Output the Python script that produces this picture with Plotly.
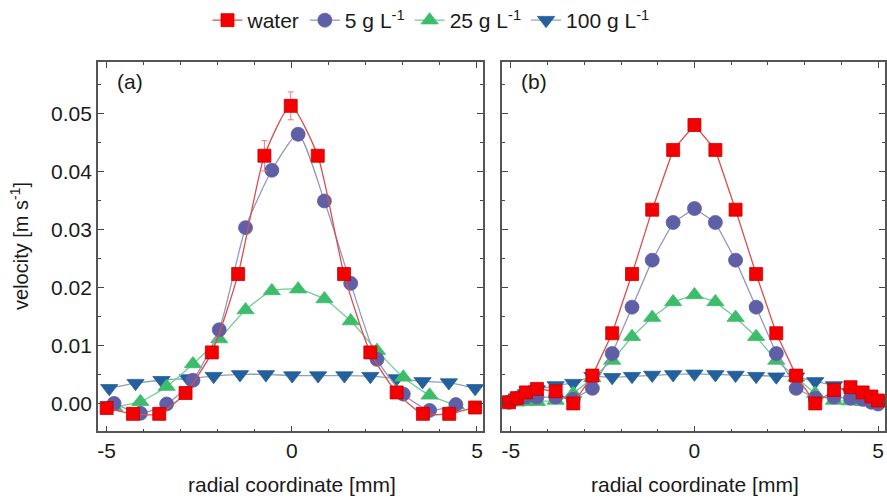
import plotly.graph_objects as go

# ---------------- data ----------------
# panel (a)
water_a_x = [-5.0, -4.29, -3.58, -2.87, -2.16, -1.45, -0.74, -0.03, 0.70, 1.41, 2.12, 2.83, 3.54, 4.25, 4.95]
water_a_y = [-0.0008, -0.0018, -0.0018, 0.0018, 0.0088, 0.0223, 0.0427, 0.0513, 0.0427, 0.0223, 0.0088, 0.0019, -0.0018, -0.0018, -0.0007]
water_a_err = [0.0003, 0.0003, 0.0003, 0.0003, 0.0004, 0.0008, 0.0026, 0.0024, 0.0008, 0.0006, 0.0004, 0.0003, 0.0003, 0.0003, 0.0003]

g5_a_x = [-4.8, -4.09, -3.38, -2.67, -1.96, -1.25, -0.54, 0.17, 0.88, 1.59, 2.30, 3.01, 3.72, 4.43]
g5_a_y = [0.0000, -0.0017, -0.0001, 0.0040, 0.0127, 0.0303, 0.0402, 0.0464, 0.0349, 0.0207, 0.0076, 0.0016, -0.0012, -0.0002]

g25_a_x = [-4.8, -4.09, -3.38, -2.67, -1.96, -1.25, -0.54, 0.17, 0.88, 1.59, 2.30, 3.01, 3.72, 4.43]
g25_a_y = [-0.0006, 0.0003, 0.0029, 0.0068, 0.0111, 0.0161, 0.0194, 0.0197, 0.0180, 0.0142, 0.0091, 0.0045, 0.0014, -0.0003]

g100_a_x = [-4.93, -4.22, -3.52, -2.81, -2.11, -1.40, -0.70, 0.01, 0.71, 1.42, 2.12, 2.83, 3.53, 4.24, 4.95]
g100_a_y = [0.0026, 0.0035, 0.0040, 0.0043, 0.0047, 0.0050, 0.0050, 0.0048, 0.0048, 0.0048, 0.0047, 0.0043, 0.0038, 0.0036, 0.0026]

# panel (b)
x_b = [-5.05, -4.84, -4.59, -4.29, -3.78, -3.30, -2.78, -2.24, -1.70, -1.15, -0.58, 0.0,
       0.57, 1.12, 1.68, 2.23, 2.77, 3.29, 3.80, 4.25, 4.58, 4.82, 5.0]
water_b_y = [0.0002, 0.0009, 0.0019, 0.0025, 0.0021, 0.0000, 0.0048, 0.0121, 0.0223, 0.0334, 0.0437, 0.0480,
             0.0437, 0.0334, 0.0223, 0.0121, 0.0048, 0.0000, 0.0023, 0.0028, 0.0019, 0.0012, 0.0005]
g5_b_y = [0.0002, 0.0009, 0.0011, 0.0011, 0.0011, 0.0007, 0.0026, 0.0086, 0.0166, 0.0247, 0.0312, 0.0336,
          0.0312, 0.0247, 0.0166, 0.0086, 0.0026, 0.0009, 0.0011, 0.0009, 0.0007, 0.0002, -0.0001]
g25_b_y = [0.0002, 0.0002, 0.0003, 0.0003, 0.0005, 0.0017, 0.0044, 0.0074, 0.0115, 0.0148, 0.0175, 0.0187,
           0.0175, 0.0148, 0.0115, 0.0074, 0.0045, 0.0017, 0.0005, 0.0004, 0.0003, 0.0002, 0.0001]
g100_b_y = [0.0004, 0.0010, 0.0017, 0.0024, 0.0031, 0.0035, 0.0047, 0.0045, 0.0047, 0.0049, 0.0050, 0.0051,
            0.0050, 0.0049, 0.0047, 0.0046, 0.0046, 0.0038, 0.0031, 0.0019, 0.0014, 0.0008, 0.0004]

series_names = ["water", "5 g L<sup>-1</sup>", "25 g L<sup>-1</sup>", "100 g L<sup>-1</sup>"]
x_tickvals = [-5, 0, 5]
x_ticktext = ["-5", "0", "5"]
y_tickvals = [0.00, 0.01, 0.02, 0.03, 0.04, 0.05]
y_ticktext = ["0.00", "0.01", "0.02", "0.03", "0.04", "0.05"]

# ---------------- styles ----------------
FONT = "Liberation Sans, Arial, sans-serif"
FS = 21
styles = [
    dict(symbol="square", size=13, fill="#F40000", edge="#C80000", line="#DA4F4F"),
    dict(symbol="circle", size=14, fill="#5E5FA6", edge="#5E5FA6", line="#9598BE"),
    dict(symbol="triangle-up", size=15, fill="#3DBD6C", edge="#3DBD6C", line="#74CC98"),
    dict(symbol="triangle-down", size=15, fill="#23609C", edge="#23609C", line="#8AA2BC"),
]

fig = go.Figure()

panel_a = [(water_a_x, water_a_y), (g5_a_x, g5_a_y), (g25_a_x, g25_a_y), (g100_a_x, g100_a_y)]
panel_b = [(x_b, water_b_y), (x_b, g5_b_y), (x_b, g25_b_y), (x_b, g100_b_y)]

# draw in reverse so water is on top
for i in [3, 2, 1, 0]:
    st = styles[i]
    xs, ys = panel_a[i]
    err = dict(type="data", array=water_a_err, color="#F07A7A", thickness=1, width=3) if i == 0 else None
    fig.add_trace(go.Scatter(
        x=xs, y=ys, mode="lines+markers", name=series_names[i], legendrank=i + 1,
        line=dict(color=st["line"], width=1.3, shape="spline", smoothing=0.6),
        marker=dict(symbol=st["symbol"], size=st["size"], color=st["fill"],
                    line=dict(color=st["edge"], width=0.8)),
        error_y=err, xaxis="x", yaxis="y", showlegend=True))
for i in [3, 2, 1, 0]:
    st = styles[i]
    xs, ys = panel_b[i]
    fig.add_trace(go.Scatter(
        x=xs, y=ys, mode="lines+markers", name=series_names[i], legendrank=i + 1,
        line=dict(color=st["line"], width=1.3),
        marker=dict(symbol=st["symbol"], size=st["size"], color=st["fill"],
                    line=dict(color=st["edge"], width=0.8)),
        xaxis="x2", yaxis="y2", showlegend=False))

W, H = 887, 499
ytop, ybot = 60, 431
ydom = [1 - ybot / H, 1 - ytop / H]
yrange = [-0.0048, 0.0589]

axis_common = dict(
    showline=True, linecolor="#555555", linewidth=1.5, mirror="allticks",
    ticks="inside", ticklen=6, tickwidth=1.3, tickcolor="#444444",
    showgrid=False, zeroline=False,
    tickfont=dict(family=FONT, size=FS, color="#1a1a1a"),
)

fig.update_layout(
    width=W, height=H,
    margin=dict(l=0, r=0, t=0, b=0),
    paper_bgcolor="white", plot_bgcolor="white",
    font=dict(family=FONT, size=FS, color="#1a1a1a"),
    xaxis=dict(domain=[98 / W, 484 / W], range=[-5.24, 5.16], anchor="y",
               tickvals=x_tickvals, ticktext=x_ticktext,
               minor=dict(ticks="inside", dtick=1, ticklen=3, tickcolor="#444444"),
               **axis_common),
    yaxis=dict(domain=ydom, range=yrange, anchor="x",
               tickvals=y_tickvals, ticktext=y_ticktext,
               minor=dict(ticks="inside", dtick=0.005, tick0=0, ticklen=3, tickcolor="#444444"),
               **axis_common),
    xaxis2=dict(domain=[503 / W, 1.0], range=[-5.245, 5.19], anchor="y2",
                tickvals=x_tickvals, ticktext=x_ticktext,
                minor=dict(ticks="inside", dtick=1, ticklen=3, tickcolor="#444444"),
                **axis_common),
    yaxis2=dict(domain=ydom, range=yrange, anchor="x2",
                tickvals=y_tickvals, showticklabels=False,
                minor=dict(ticks="inside", dtick=0.005, tick0=0, ticklen=3, tickcolor="#444444"),
                **axis_common),
    legend=dict(orientation="h", x=0.487, xanchor="center", y=1.005, yanchor="top",
                font=dict(family=FONT, size=FS, color="#1a1a1a"),
                bgcolor="rgba(0,0,0,0)", itemwidth=30, traceorder="normal"),
    showlegend=True,
    annotations=[
        dict(text="(a)", x=115 / W, y=1 - 80 / H, xref="paper", yref="paper",
             xanchor="left", yanchor="middle", showarrow=False,
             font=dict(family=FONT, size=FS, color="#1a1a1a")),
        dict(text="(b)", x=520 / W, y=1 - 80 / H, xref="paper", yref="paper",
             xanchor="left", yanchor="middle", showarrow=False,
             font=dict(family=FONT, size=FS, color="#1a1a1a")),
        dict(text="radial coordinate [mm]", x=293 / W, y=1 - 484 / H, xref="paper", yref="paper",
             xanchor="center", yanchor="middle", showarrow=False,
             font=dict(family=FONT, size=FS, color="#1a1a1a")),
        dict(text="radial coordinate [mm]", x=697 / W, y=1 - 484 / H, xref="paper", yref="paper",
             xanchor="center", yanchor="middle", showarrow=False,
             font=dict(family=FONT, size=FS, color="#1a1a1a")),
        dict(text="velocity [m s<sup>-1</sup>]", x=19 / W, y=1 - 245 / H, xref="paper", yref="paper",
             xanchor="center", yanchor="middle", textangle=-90, showarrow=False,
             font=dict(family=FONT, size=FS - 1, color="#1a1a1a")),
    ],
)

fig.write_html("out.html")
